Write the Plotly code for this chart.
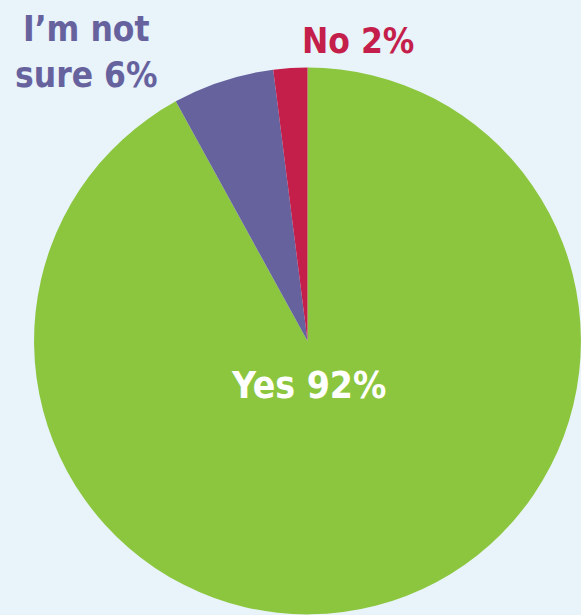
import plotly.graph_objects as go

labels = ["Yes", "I’m not sure", "No"]
values = [92, 6, 2]
colors = ["#8cc63f", "#66629e", "#c41e4a"]

FONT = "DejaVu Sans Condensed, Liberation Sans Narrow, sans-serif"

fig = go.Figure(go.Pie(
    labels=labels, values=values, sort=False, direction="clockwise", rotation=0,
    marker=dict(colors=colors, line=dict(width=0)),
    textinfo="none", hoverinfo="label+percent", showlegend=False,
    domain=dict(x=[34/581, 1.0], y=[0.001, 1 - 67.5/615]),
))

fig.add_annotation(x=308, y=385, xref="x", yref="y", text="<b>Yes 92%</b>", showarrow=False,
                   font=dict(family=FONT, size=37, color="white"))
fig.add_annotation(x=358, y=41, xref="x", yref="y", text="<b>No 2%</b>", showarrow=False,
                   font=dict(family=FONT, size=35, color="#c41e4a"))
fig.add_annotation(x=86, y=52, xref="x", yref="y", text="<b>I’m not<br>sure 6%</b>", showarrow=False,
                   font=dict(family=FONT, size=35, color="#66629e"))

fig.update_layout(
    width=581, height=615, margin=dict(l=0, r=0, t=0, b=0),
    paper_bgcolor="#e8f3fa", plot_bgcolor="rgba(0,0,0,0)",
    xaxis=dict(range=[0, 581], visible=False, fixedrange=True),
    yaxis=dict(range=[615, 0], visible=False, fixedrange=True),
)
fig.write_html("out.html", config={"displayModeBar": False},
               post_script="document.body.style.margin='0';document.body.style.background='#e8f3fa';")
